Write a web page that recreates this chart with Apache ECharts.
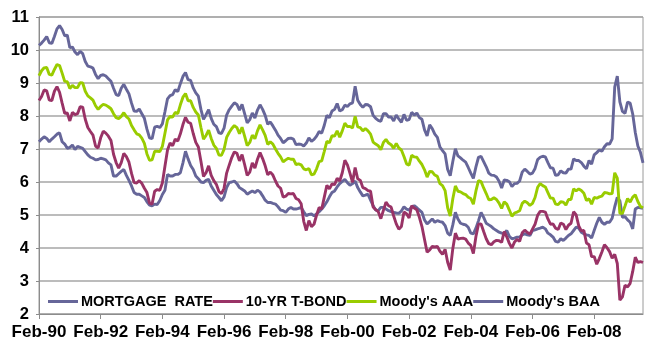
<!DOCTYPE html>
<html>
<head>
<meta charset="utf-8">
<script src="https://cdn.jsdelivr.net/npm/echarts@6/dist/echarts.min.js"></script>
<style>html,body{margin:0;padding:0;background:#fff}#c{width:647px;height:341px}</style>
</head>
<body>
<div id="c"></div>
<script>
// Categories: monthly, Feb-90 .. Sep-09
var monthNames = ['Jan','Feb','Mar','Apr','May','Jun','Jul','Aug','Sep','Oct','Nov','Dec'];
var startYear = 1990, startMonth = 1, monthCount = 236;
var categories = [];
for (var k = 0; k < monthCount; k++) {
  var m = (startMonth + k) % 12, y = startYear + Math.floor((startMonth + k) / 12);
  categories.push(monthNames[m] + '-' + String(y % 100).padStart(2, '0'));
}

var seriesNames = ['MORTGAGE  RATE', '10-YR T-BOND', "Moody's AAA", "Moody's BAA"];

var mortgageRate = [
7.22,7.30,7.37,7.32,7.22,7.30,7.37,7.45,7.49,7.22,7.15,7.02,
7.05,7.12,6.98,7.08,7.05,7.02,6.92,6.82,6.75,6.72,6.67,6.68,
6.72,6.70,6.67,6.58,6.52,6.18,6.18,6.25,6.32,6.38,6.20,6.05,
5.88,5.68,5.63,5.63,5.58,5.53,5.40,5.30,5.28,5.33,5.32,5.44,
5.62,5.75,6.23,6.18,6.18,6.23,6.23,6.28,6.58,6.93,6.70,6.50,
6.38,6.18,6.10,6.00,5.98,6.05,6.08,5.88,5.75,5.62,5.53,5.43,
5.55,5.83,5.98,6.00,6.03,5.95,5.83,5.78,5.73,5.63,5.68,5.73,
5.68,5.75,5.70,5.58,5.45,5.38,5.38,5.35,5.33,5.25,5.15,5.13,
5.08,5.18,5.23,5.18,5.18,5.20,5.23,5.10,4.98,5.02,5.03,4.98,
5.03,5.10,5.18,5.28,5.40,5.55,5.68,5.73,5.85,5.95,6.02,6.08,
5.98,5.90,5.95,6.03,5.83,5.70,5.58,5.60,5.63,5.45,5.28,5.15,
5.13,5.23,5.23,5.18,5.13,5.10,5.08,5.06,5.05,5.12,5.25,5.18,
5.15,5.25,5.28,5.22,5.15,5.08,4.85,4.73,4.80,4.88,4.78,4.83,
4.80,4.78,4.68,4.45,4.38,4.70,5.08,4.88,4.75,4.72,4.70,4.63,
4.45,4.43,4.60,4.83,5.08,4.93,4.75,4.70,4.65,4.58,4.53,4.48,
4.45,4.43,4.53,4.35,4.28,4.30,4.33,4.33,4.40,4.43,4.40,4.38,
4.53,4.55,4.58,4.60,4.63,4.58,4.45,4.40,4.33,4.20,4.18,4.28,
4.23,4.30,4.38,4.43,4.53,4.63,4.60,4.48,4.43,4.40,4.38,4.30,
4.53,4.75,4.93,4.78,4.72,4.78,4.78,4.90,5.25,5.53,5.43,4.93,
4.95,4.85,4.78,4.58,5.18,5.23,5.22,5.20
];

var tBond10 = [
8.47,8.59,8.79,8.76,8.48,8.47,8.75,8.89,8.72,8.39,8.08,
8.09,7.85,8.11,8.04,8.07,8.28,8.27,7.90,7.65,7.53,7.42,7.09,
7.03,7.34,7.54,7.48,7.39,7.26,6.84,6.59,6.42,6.59,6.87,6.77,
6.60,6.26,5.98,5.97,6.04,5.96,5.81,5.68,5.36,5.33,5.72,5.77,
5.75,5.97,6.48,6.97,7.18,7.10,7.30,7.24,7.46,7.74,7.96,7.81,
7.78,7.47,7.20,7.06,6.63,6.17,6.28,6.49,6.20,6.04,5.93,5.71,
5.65,5.81,6.27,6.51,6.74,6.91,6.87,6.64,6.83,6.53,6.20,6.30,
6.58,6.42,6.69,6.89,6.71,6.49,6.22,6.30,6.21,6.03,5.88,5.81,
5.54,5.57,5.65,5.64,5.65,5.50,5.46,5.34,4.81,4.53,4.83,4.65,
4.72,5.00,5.23,5.18,5.54,5.90,5.79,5.94,5.92,6.11,6.03,6.28,
6.66,6.52,6.26,5.99,6.44,6.10,6.05,5.83,5.80,5.74,5.72,5.24,
5.16,5.10,4.89,5.14,5.39,5.28,5.24,4.97,4.73,4.57,4.65,5.09,
5.04,4.91,5.28,5.21,5.16,4.93,4.65,4.26,3.87,3.94,4.05,4.03,
4.05,3.90,3.81,3.96,3.57,3.33,3.98,4.45,4.27,4.29,4.30,4.27,
4.15,4.08,3.83,4.35,4.72,4.73,4.50,4.28,4.13,4.10,4.19,4.23,
4.22,4.17,4.50,4.34,4.14,4.00,4.18,4.26,4.20,4.46,4.54,4.47,
4.42,4.57,4.72,4.99,5.11,5.11,5.09,4.88,4.72,4.73,4.60,4.56,
4.76,4.72,4.56,4.69,4.75,5.10,5.00,4.67,4.52,4.53,4.15,4.10,
3.74,3.74,3.51,3.68,3.88,4.10,4.01,3.89,3.69,3.81,3.53,2.42,
2.52,2.87,2.82,2.93,3.29,3.72,3.56,3.59,3.56
];

var moodysAAA = [
9.22,9.37,9.46,9.47,9.26,9.24,9.41,9.56,9.53,9.30,9.05,
9.04,8.83,8.93,8.86,8.86,9.01,9.00,8.75,8.61,8.55,8.48,8.31,
8.20,8.29,8.35,8.33,8.28,8.22,8.07,7.95,7.92,7.99,8.10,7.98,
7.91,7.71,7.58,7.46,7.43,7.33,7.17,6.85,6.66,6.67,6.93,6.93,
6.92,7.08,7.48,7.88,7.99,7.97,8.11,8.07,8.34,8.57,8.68,8.46,
8.46,8.26,8.12,8.03,7.65,7.30,7.41,7.57,7.32,7.12,7.02,6.82,
6.81,6.99,7.35,7.50,7.62,7.71,7.65,7.46,7.66,7.39,7.10,7.20,
7.42,7.31,7.55,7.73,7.58,7.41,7.14,7.22,7.15,7.00,6.87,6.76,
6.61,6.67,6.72,6.69,6.69,6.53,6.55,6.52,6.40,6.37,6.41,6.22,
6.24,6.40,6.62,6.64,6.93,7.23,7.19,7.40,7.39,7.55,7.36,7.55,
7.78,7.68,7.68,7.64,7.99,7.67,7.65,7.55,7.62,7.55,7.45,7.21,
7.15,7.10,6.98,7.20,7.29,7.18,7.13,7.02,7.17,7.03,6.97,6.77,
6.55,6.51,6.81,6.76,6.75,6.63,6.53,6.37,6.15,6.32,6.31,6.21,
6.17,5.95,5.89,5.74,5.22,4.97,5.49,5.88,5.72,5.70,5.65,5.62,
5.54,5.50,5.33,5.73,6.04,6.01,5.82,5.65,5.46,5.47,5.52,5.47,
5.36,5.20,5.40,5.33,5.15,4.96,5.06,5.09,5.13,5.35,5.42,5.37,
5.29,5.35,5.53,5.84,5.95,5.89,5.85,5.68,5.51,5.51,5.33,5.32,
5.40,5.39,5.30,5.47,5.47,5.79,5.73,5.79,5.74,5.66,5.44,5.49,
5.33,5.53,5.51,5.55,5.57,5.68,5.67,5.64,5.65,6.28,6.12,5.05,
5.05,5.27,5.50,5.39,5.54,5.61,5.41,5.26,5.22
];

var moodysBAA = [
10.14,10.21,10.30,10.41,10.22,10.20,10.41,10.64,10.74,10.62,10.43,
10.45,10.07,10.09,9.94,9.86,9.96,9.89,9.65,9.51,9.49,9.45,9.26,
9.13,9.23,9.25,9.21,9.13,9.05,8.84,8.65,8.62,8.84,8.96,8.81,
8.67,8.39,8.15,8.14,8.21,8.07,7.93,7.60,7.34,7.31,7.66,7.69,
7.65,7.76,8.13,8.52,8.62,8.65,8.80,8.74,8.98,9.20,9.32,9.10,
9.08,8.85,8.70,8.60,8.20,7.90,8.04,8.19,7.93,7.75,7.68,7.49,
7.47,7.63,8.03,8.19,8.30,8.40,8.35,8.18,8.35,8.07,7.79,7.89,
8.09,7.94,8.18,8.34,8.20,8.02,7.75,7.82,7.70,7.57,7.42,7.32,
7.19,7.25,7.32,7.33,7.30,7.13,7.15,7.14,7.09,7.18,7.34,7.23,
7.29,7.39,7.53,7.48,7.72,8.02,7.95,8.15,8.20,8.38,8.15,8.19,
8.33,8.29,8.37,8.40,8.90,8.48,8.35,8.26,8.35,8.34,8.28,8.02,
7.93,7.87,7.84,8.07,8.07,7.97,7.97,7.85,8.03,7.91,7.81,8.05,
7.87,7.89,8.11,8.03,8.09,7.95,7.90,7.58,7.40,7.73,7.62,7.45,
7.35,7.06,6.95,6.85,6.38,6.19,6.62,7.01,6.79,6.73,6.66,6.60,
6.44,6.27,6.11,6.46,6.75,6.78,6.62,6.46,6.27,6.21,6.20,6.15,
6.02,5.82,6.06,6.05,6.01,5.86,5.95,5.96,6.03,6.30,6.39,6.32,
6.24,6.27,6.41,6.68,6.75,6.78,6.76,6.59,6.43,6.42,6.20,6.22,
6.34,6.28,6.27,6.39,6.39,6.70,6.65,6.65,6.59,6.48,6.40,6.65,
6.54,6.82,6.89,6.97,6.93,7.07,7.16,7.15,7.31,8.88,9.21,8.43,
8.14,8.08,8.42,8.39,8.06,7.50,7.09,6.90,6.58
];

var yMin = 2, yMax = 11, yStep = 1;
var colors = ['#666699', '#993366', '#99CC00', '#666699'];
var seriesData = [mortgageRate, tBond10, moodysAAA, moodysBAA];

var chart = echarts.init(document.getElementById('c'), null, {renderer: 'canvas'});
var font = 'Arial, "Liberation Sans", sans-serif';
chart.setOption({
  animation: false,
  color: colors,
  grid: {left: 39, right: 4, top: 17, bottom: 23, show: true, borderColor: '#9a9a9a', borderWidth: 1, containLabel: false},
  legend: {
    left: 43, top: 289, padding: 5, itemWidth: 30, itemHeight: 3, itemGap: 0,
    icon: 'rect',
    data: seriesNames,
    textStyle: {fontFamily: font, fontWeight: 'bold', fontSize: 14.5, color: '#000', padding: [0, 0, 0, -2]}
  },
  xAxis: {
    type: 'category', data: categories, boundaryGap: false,
    axisLine: {lineStyle: {color: '#8c8c8c', width: 1}},
    axisTick: {interval: 23, length: 5, lineStyle: {color: '#8c8c8c'}},
    axisLabel: {interval: 23, margin: 10, fontFamily: font, fontWeight: 'bold', fontSize: 17, color: '#000'},
    splitLine: {show: false}
  },
  yAxis: {
    type: 'value', min: yMin, max: yMax, interval: yStep,
    axisLine: {show: true, lineStyle: {color: '#8c8c8c', width: 1}},
    axisTick: {show: true, length: 3, lineStyle: {color: '#8c8c8c'}},
    axisLabel: {margin: 10, fontFamily: font, fontWeight: 'bold', fontSize: 16.5, color: '#000'},
    splitLine: {lineStyle: {color: '#a6a6a6', width: 1.5}}
  },
  series: seriesData.map(function (d, i) {
    return {
      name: seriesNames[i], type: 'line', data: d, symbol: 'none', showSymbol: false,
      lineStyle: {width: 2.9, color: colors[i]}, itemStyle: {color: colors[i]}
    };
  })
});
</script>
</body>
</html>
